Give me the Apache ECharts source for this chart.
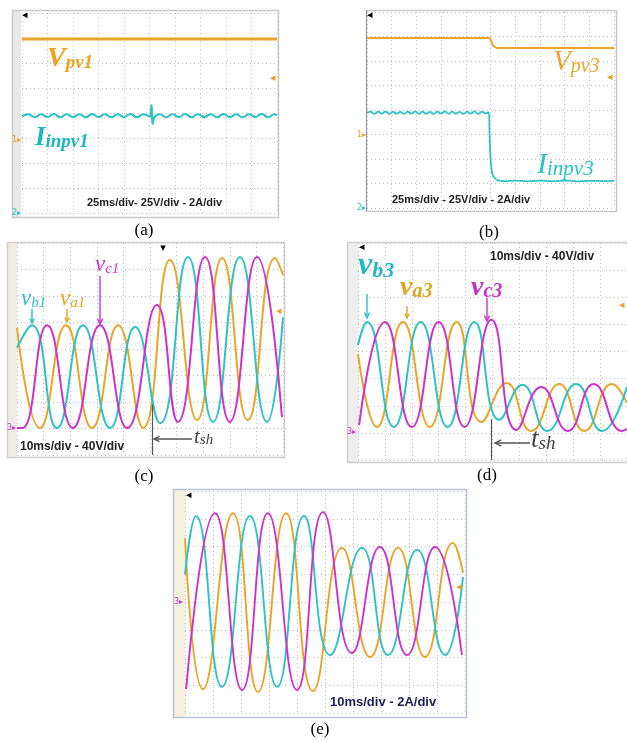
<!DOCTYPE html>
<html lang="en">
<head>
<meta charset="UTF-8">
<title>PV converter waveforms</title>
<style>
  html, body { margin: 0; padding: 0; background: #fff; }
  #chart { width: 627px; height: 740px; }
</style>
</head>
<body>
<div id="chart"></div>
<script src="https://cdn.jsdelivr.net/npm/echarts@6/dist/echarts.min.js"></script>
<script>
// every value is in scope divisions: x 0..10, y 0..8 (0 = bottom of the screen)

// (a) PV1 voltage and input current
var vpv1 = [[0, 6.96], [10, 6.96]];
var ipv1 = [[0,3.87],[0.25,3.95],[0.5,3.83],[0.75,3.95],[1,3.84],[1.25,3.96],[1.5,3.83],[1.75,3.95],
  [2,3.84],[2.25,3.95],[2.5,3.83],[2.75,3.96],[3,3.84],[3.25,3.95],[3.5,3.83],[3.75,3.95],[4,3.84],
  [4.25,3.96],[4.5,3.83],[4.75,3.95],[5.02,3.86],[5.08,4.32],[5.12,3.56],[5.2,3.84],[5.4,3.95],
  [5.65,3.83],[5.9,3.95],[6.15,3.84],[6.4,3.96],[6.65,3.83],[6.9,3.95],[7.15,3.84],[7.4,3.95],
  [7.65,3.83],[7.9,3.96],[8.15,3.84],[8.4,3.95],[8.65,3.83],[8.9,3.95],[9.15,3.84],[9.4,3.96],
  [9.65,3.83],[9.9,3.95],[10,3.9]];

// (b) PV3 voltage and input current, PV3 shaded near the middle
var vpv3 = [[0,6.94],[4.98,6.94],[5.1,6.62],[5.25,6.53],[10,6.53]];
var ipv3 = [[0,3.88],[0.15,3.93],[0.3,3.84],[0.45,3.93],[0.6,3.85],[0.75,3.94],[0.9,3.84],[1.05,3.93],
  [1.2,3.85],[1.35,3.92],[1.5,3.84],[1.65,3.93],[1.8,3.85],[1.95,3.94],[2.1,3.84],[2.25,3.93],
  [2.4,3.85],[2.55,3.92],[2.7,3.84],[2.85,3.93],[3,3.85],[3.15,3.94],[3.3,3.84],[3.45,3.93],
  [3.6,3.85],[3.75,3.92],[3.9,3.84],[4.05,3.93],[4.2,3.85],[4.35,3.94],[4.5,3.84],[4.65,3.93],
  [4.8,3.86],[4.93,3.9],[4.96,3.1],[4.99,2.2],[5.04,1.6],[5.12,1.28],[5.3,1.13],[5.6,1.1],
  [6,1.12],[6.5,1.09],[7,1.12],[7.5,1.1],[8,1.12],[8.5,1.09],[9,1.11],[9.5,1.1],[10,1.11]];

// (c) grid voltages of module 1 (peaks and troughs)
var va1 = [[0,4.8],[0.86,1.02],[1.84,4.9],[2.82,1.02],[3.8,4.9],[4.74,1.02],[5.75,7.36],[6.77,1.32],
  [7.71,7.43],[8.68,1.32],[9.7,7.43],[10,6.8]];
var vb1 = [[0,4.04],[0.56,4.9],[1.5,1.02],[2.48,4.9],[3.5,1.02],[4.44,4.83],[5.38,1.2],[6.43,7.47],
  [7.37,1.25],[8.38,7.47],[9.4,1.25],[10,5.2]];
var vc1 = [[0,1.02],[0.2,1.02],[1.13,4.9],[2.1,1.02],[3.12,4.9],[4.14,1.02],[5.26,5.66],[6.05,1.25],[7.07,7.47],
  [8.0,1.25],[9.02,7.47],[9.96,1.43]];
var tsh1 = 5.07;

// (d) grid voltages of module 3
var va3 = [[0,3.9],[0.7,1.22],[1.67,5.09],[2.67,1.22],[3.67,5.09],[4.59,1.4],[5.52,2.84],[6.44,1.07],
  [7.48,2.8],[8.41,1.07],[9.44,2.8],[10,2.1]];
var vb3 = [[0,4.24],[0.33,5.09],[1.33,1.22],[2.33,5.09],[3.33,1.22],[4.33,5.09],[5.26,1.48],[6.11,2.77],
  [7.04,1.07],[8.11,2.8],[9.07,1.07],[10,2.7]];
var vc3 = [[0.04,1.29],[1.0,5.09],[2.0,1.22],[3.0,5.09],[3.96,1.22],[4.96,5.17],[5.89,1.11],[6.81,2.69],
  [7.8,1.07],[8.76,2.8],[9.81,1.07],[10,1.15]];
var tsh3 = 4.96;

// (e) grid currents
var ia = [[0,6.3],[0.64,0.86],[1.71,7.2],[2.61,0.76],[3.61,7.2],[4.57,0.79],[5.61,5.95],[6.61,2.02],
  [7.61,5.95],[8.57,2.02],[9.57,6.13],[9.93,5.05]];
var ib = [[0,5.0],[0.39,7.1],[1.32,0.94],[2.32,7.1],[3.29,0.94],[4.25,7.1],[5.18,2.09],[6.32,5.95],
  [7.25,2.09],[8.29,5.88],[9.29,2.09],[9.93,4.9]];
var ic = [[0.04,0.86],[1.07,7.2],[2.04,0.83],[2.96,7.2],[4.0,0.83],[4.93,7.24],[5.96,2.16],[6.96,5.98],
  [7.93,2.09],[8.93,5.98],[9.89,2.09]];

var ORANGE = '#E8A528', CYAN = '#2FC2C4', MAGENTA = '#CC33CC';
var SERIF = '"Liberation Serif", "DejaVu Serif", serif';
var SANS = '"Liberation Sans", Arial, sans-serif';

// screen areas of the five scopes
var grids = [
  { left: 22, top: 13, width: 255, height: 200 },
  { left: 367, top: 12, width: 247, height: 196 },
  { left: 17, top: 243, width: 266, height: 212 },
  { left: 358, top: 243, width: 270, height: 217 },
  { left: 185, top: 491, width: 280, height: 222 }
];

var dotted = { show: true, lineStyle: { color: '#bdbdbd', width: 1, type: [1, 3] } };
var xAxes = grids.map(function (g, i) {
  return { gridIndex: i, type: 'value', min: 0, max: 10, interval: 1,
    axisLine: { show: false }, axisTick: { show: false }, axisLabel: { show: false }, splitLine: dotted };
});
var yAxes = grids.map(function (g, i) {
  return { gridIndex: i, type: 'value', min: 0, max: 8, interval: 1,
    axisLine: { show: false }, axisTick: { show: false }, axisLabel: { show: false }, splitLine: dotted };
});

function trace(gi, data, color, width, smooth) {
  return { type: 'line', xAxisIndex: gi, yAxisIndex: gi, data: data, showSymbol: false,
    smooth: smooth, silent: true, lineStyle: { color: color, width: width }, itemStyle: { color: color } };
}

var series = [
  trace(0, vpv1, ORANGE, 3, false),
  trace(0, ipv1, CYAN, 2.2, 0.5),
  trace(1, vpv3, ORANGE, 2, false),
  trace(1, ipv3, CYAN, 1.8, 0.3),
  trace(2, va1, ORANGE, 2, 0.5),
  trace(2, vb1, CYAN, 2, 0.5),
  trace(2, vc1, MAGENTA, 2, 0.5),
  trace(3, va3, ORANGE, 2, 0.5),
  trace(3, vb3, CYAN, 2, 0.5),
  trace(3, vc3, MAGENTA, 2, 0.5),
  trace(4, ia, ORANGE, 1.9, 0.5),
  trace(4, ib, CYAN, 1.9, 0.5),
  trace(4, ic, MAGENTA, 1.9, 0.5)
];

// tsh markers as vertical lines in data coordinates
series[4].markLine = { silent: true, symbol: 'none', label: { show: false },
  lineStyle: { color: '#555', width: 1.2, type: 'solid' }, data: [[{ coord: [tsh1, 0] }, { coord: [tsh1, 1.9] }]] };
series[7].markLine = { silent: true, symbol: 'none', label: { show: false },
  lineStyle: { color: '#555', width: 1.2, type: 'solid' }, data: [[{ coord: [tsh3, 0] }, { coord: [tsh3, 1.5] }]] };

var gfx = [];

function frame(x, y, w, h, stroke, strip, stripColor) {
  if (strip) gfx.push({ type: 'rect', z: 1, shape: { x: x, y: y, width: strip, height: h }, style: { fill: stripColor } });
  gfx.push({ type: 'rect', z: 1, shape: { x: x + 0.5, y: y + 0.5, width: w, height: h },
    style: { fill: null, stroke: stroke, lineWidth: 1.5 } });
}

function text(x, y, s, font, color, align) {
  gfx.push({ type: 'text', z: 100, x: x, y: y,
    style: { text: s, font: font, fill: color, align: align || 'left', verticalAlign: 'middle' } });
}

function sub(x, y, main, low, color, mSize, sSize, weight, off) {
  var base = { fontFamily: SERIF, fontStyle: 'italic', fontWeight: weight, fill: color };
  gfx.push({ type: 'text', z: 100, x: x, y: y,
    style: { text: '{m|' + main + '}{s|' + low + '}', fill: color, align: 'left', verticalAlign: 'middle',
      rich: {
        m: Object.assign({ fontSize: mSize, lineHeight: mSize }, base),
        s: Object.assign({ fontSize: sSize, lineHeight: mSize - 2 * off, verticalAlign: 'bottom' }, base)
      } } });
}

function arrow(x1, y1, x2, y2, color, h) {
  var a = Math.atan2(y2 - y1, x2 - x1), k = 0.45;
  gfx.push({ type: 'line', z: 100, shape: { x1: x1, y1: y1, x2: x2, y2: y2 }, style: { stroke: color, lineWidth: 1.4 } });
  gfx.push({ type: 'polyline', z: 100,
    shape: { points: [[x2 - h * Math.cos(a - k), y2 - h * Math.sin(a - k)], [x2, y2], [x2 - h * Math.cos(a + k), y2 - h * Math.sin(a + k)]] },
    style: { stroke: color, fill: null, lineWidth: 1.4 } });
}

// scope frames
frame(12, 10, 266, 207, '#c9c9c9', 9, '#e8e8e8');
frame(366, 10, 250, 201, '#c9c9c9', 0);
gfx.push({ type: 'line', z: 1, shape: { x1: 366.5, y1: 10, x2: 366.5, y2: 211 }, style: { stroke: '#9a9a9a', lineWidth: 1 } });
frame(7, 242, 277, 215, '#cfcfcf', 10, '#f1ede6');
frame(347, 242, 283, 220, '#cfcfcf', 11, '#eeeeee');
frame(173, 489, 293, 228, '#b9c3d3', 12, '#f6f1df');

// channel and trigger markers
var tiny = '8px "DejaVu Sans", sans-serif';
var mark = '11px "DejaVu Sans", sans-serif';
text(12, 140, '1\u25B8', tiny, ORANGE);
text(12, 213, '2\u25B8', tiny, CYAN);
text(22, 15, '\u25C2', mark, '#000');
text(270, 78, '\u25C2', mark, ORANGE);
text(357, 135, '1\u25B8', tiny, ORANGE);
text(357, 208, '2\u25B8', tiny, CYAN);
text(367, 15, '\u25C2', mark, '#000');
text(607, 77, '\u25C2', mark, ORANGE);
text(7, 428, '3\u25B8', tiny, MAGENTA);
text(163, 248, '\u25BE', mark, '#000', 'center');
text(276, 311, '\u25C2', mark, ORANGE);
text(347, 432, '3\u25B8', tiny, MAGENTA);
text(359, 247, '\u25C2', mark, '#000');
text(619, 305, '\u25C2', mark, ORANGE);
text(174, 602, '3\u25B8', tiny, MAGENTA);
text(186, 495, '\u25C2', mark, '#000');
text(456, 587, '\u25C2', mark, ORANGE);

// trace names
sub(47, 59, 'V', 'pv1', '#EFA11E', 28, 19, 'bold', 6);
sub(35, 138, 'I', 'inpv1', '#1DB7B9', 27, 19, 'bold', 5);
sub(553, 62, 'V', 'pv3', '#E6A62E', 29, 20, 'normal', 6);
sub(537, 165, 'I', 'inpv3', '#27C3C5', 30, 21, 'normal', 5);
sub(21, 299, 'v', 'b1', CYAN, 23, 15, 'normal', 3);
sub(60, 299, 'v', 'a1', '#E2A52A', 23, 15, 'normal', 3);
sub(95, 265, 'v', 'c1', MAGENTA, 23, 15, 'normal', 3);
sub(358, 266, 'v', 'b3', '#22B8C0', 32, 22, 'bold', 4);
sub(400, 288, 'v', 'a3', '#DDA520', 28, 20, 'bold', 4);
sub(471, 288, 'v', 'c3', '#C52FC8', 28, 20, 'bold', 4);

arrow(32, 309, 32, 323, CYAN, 5);
arrow(67, 309, 67, 322, '#E2A52A', 5);
arrow(100, 276, 100, 324, MAGENTA, 6);
arrow(367, 294, 367, 318, CYAN, 6);
arrow(407, 306, 407, 318, '#DDA520', 5);
arrow(487, 298, 487, 321, MAGENTA, 6);

// switching instant
arrow(192, 439, 154, 439, '#555', 6);
sub(194, 437, 't', 'sh', '#444', 21, 15, 'normal', 3);
arrow(530, 443, 495, 443, '#555', 7);
sub(531, 440, 't', 'sh', '#444', 27, 19, 'normal', 4);

// scale notes
text(87, 203, '25ms/div- 25V/div - 2A/div', 'bold 11px ' + SANS, '#222');
text(392, 200, '25ms/div - 25V/div - 2A/div', 'bold 11px ' + SANS, '#222');
text(20, 447, '10ms/div - 40V/div', 'bold 12px ' + SANS, '#222');
text(490, 257, '10ms/div - 40V/div', 'bold 12px ' + SANS, '#222');
text(330, 702, '10ms/div - 2A/div', 'bold 13px ' + SANS, '#1e2050');

// captions
text(144, 231, '(a)', '17px ' + SERIF, '#000', 'center');
text(489, 233, '(b)', '17px ' + SERIF, '#000', 'center');
text(144, 477, '(c)', '17px ' + SERIF, '#000', 'center');
text(487, 476, '(d)', '17px ' + SERIF, '#000', 'center');
text(320, 730, '(e)', '17px ' + SERIF, '#000', 'center');

var chart = echarts.init(document.getElementById('chart'));
chart.setOption({
  animation: false,
  backgroundColor: '#fff',
  grid: grids.map(function (g) { return Object.assign({ containLabel: false }, g); }),
  xAxis: xAxes,
  yAxis: yAxes,
  series: series,
  graphic: { elements: gfx }
});
</script>
</body>
</html>
